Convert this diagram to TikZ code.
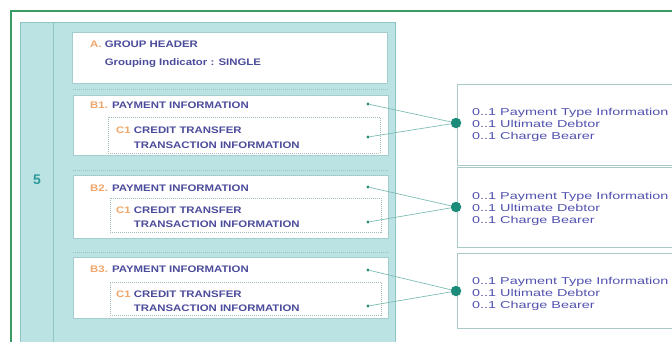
\documentclass[tikz,border=0pt]{standalone}
\usepackage{fontspec}
\setmainfont{Liberation Sans}
\newfontfamily\lblfont[FakeStretch=1.20]{Liberation Sans}
\newfontfamily\itemfont[FakeStretch=1.44]{Liberation Sans}

\definecolor{framegreen}{HTML}{3A9A64}
\definecolor{panel}{HTML}{BCE3E3}
\definecolor{panelline}{HTML}{8EC6C6}
\definecolor{boxline}{HTML}{A6CDCD}
\definecolor{dashline}{HTML}{A3BFB9}
\definecolor{itemline}{HTML}{A9C9C6}
\definecolor{ink}{HTML}{4C4C9C}
\definecolor{prefix}{HTML}{F0A66A}
\definecolor{itemink}{HTML}{5252B0}
\definecolor{tickfill}{HTML}{2A8A78}
\definecolor{hubfill}{HTML}{1B8C7A}
\definecolor{linkc}{HTML}{7DBDB5}
\definecolor{numc}{HTML}{2E9A9A}

\tikzset{
  frameline/.style={draw=framegreen, line width=1.6pt},
  panelbox/.style={draw=panelline, fill=panel, line width=1pt, inner sep=0, anchor=north west},
  headbox/.style={draw=boxline, fill=white, line width=1pt, inner sep=0, anchor=north west},
  groupbox/.style={draw=boxline, fill=white, line width=0.8pt, inner sep=0, anchor=north west},
  childbox/.style={draw=dashline, line width=0.6pt, dash pattern=on 1pt off 1pt, inner sep=0, anchor=north west},
  dotrule/.style={draw=dashline, line width=0.6pt, dash pattern=on 1pt off 1pt},
  itembox/.style={draw=itemline, fill=white, line width=0.8pt, inner sep=0, anchor=north west},
  lbl/.style={inner sep=0, anchor=base west, text=ink, font=\lblfont\bfseries\fontsize{9.5}{11}\selectfont},
  item/.style={inner sep=0, anchor=base west, text=itemink, font=\itemfont\fontsize{10}{12}\selectfont},
  tick/.style={circle, fill=tickfill, inner sep=0, minimum size=3.4pt},
  hub/.style={circle, fill=hubfill, inner sep=0, minimum size=10.5pt},
  link/.style={draw=linkc, line width=0.7pt},
}
\newcommand{\pfx}[1]{\textcolor{prefix}{#1}}

\begin{document}
\begin{tikzpicture}[x=1pt, y=-1pt]
\useasboundingbox (0,0) rectangle (672,341);
\clip (0,0) rectangle (672,341);

% outer frame
\coordinate (fr) at (680,11);
\coordinate (fc) at (11,11);
\coordinate (fb) at (11,350);
\draw[frameline] (fr) -- (fc) -- (fb);

% message panel with its level column
\node[panelbox, minimum width=375pt, minimum height=340pt] (panel) at (20,22) {};
\coordinate (colt) at (53,22);
\coordinate (colb) at (53,362);
\draw[draw=panelline, line width=1pt] (colt) -- (colb);
\node[text=numc, font=\bfseries\fontsize{14}{14}\selectfont, inner sep=0] (lvl) at (37,180) {5};

% group header
\node[headbox, minimum width=315pt, minimum height=51pt] (A) at (72,32) {};
\node[lbl] (At) at (90,47) {\pfx{A.} GROUP HEADER};
\node[lbl] (As) at (90,65) {\hphantom{A.} Grouping Indicator : SINGLE};

% payment information blocks
\node[groupbox, minimum width=315pt, minimum height=60pt] (B1) at (73,95) {};
\node[groupbox, minimum width=315pt, minimum height=63pt] (B2) at (73,175) {};
\node[groupbox, minimum width=315pt, minimum height=61pt] (B3) at (73,257) {};
\draw[dotrule] ([yshift=6pt]B1.north west) -- ([yshift=6pt]B1.north east);
\draw[dotrule] ([yshift=5pt]B2.north west) -- ([yshift=5pt]B2.north east);
\draw[dotrule] ([yshift=5pt]B3.north west) -- ([yshift=5pt]B3.north east);

% credit transfer transaction blocks
\node[childbox, minimum width=272pt, minimum height=36pt] (C1) at (108,117) {};
\node[childbox, minimum width=271pt, minimum height=34pt] (C2) at (110,198) {};
\node[childbox, minimum width=271pt, minimum height=33pt] (C3) at (110,282) {};

\node[lbl] (B1t) at (90,108) {\pfx{B1.} PAYMENT INFORMATION};
\node[lbl] (C1t) at (116,133) {\pfx{C1} CREDIT TRANSFER};
\node[lbl] (C1s) at (116,148) {\hphantom{C1} TRANSACTION INFORMATION};

\node[lbl] (B2t) at (90,191) {\pfx{B2.} PAYMENT INFORMATION};
\node[lbl] (C2t) at (116,213) {\pfx{C1} CREDIT TRANSFER};
\node[lbl] (C2s) at (116,227) {\hphantom{C1} TRANSACTION INFORMATION};

\node[lbl] (B3t) at (90,272) {\pfx{B3.} PAYMENT INFORMATION};
\node[lbl] (C3t) at (116,297) {\pfx{C1} CREDIT TRANSFER};
\node[lbl] (C3s) at (116,311) {\hphantom{C1} TRANSACTION INFORMATION};

% element lists
\node[itembox, minimum width=230pt, minimum height=81pt] (R1) at (457,84) {};
\node[itembox, minimum width=230pt, minimum height=80pt] (R2) at (457,167) {};
\node[itembox, minimum width=230pt, minimum height=75pt] (R3) at (457,253) {};

\node[item] (R1a) at (472,115) {0..1 Payment Type Information};
\node[item] (R1b) at (472,127) {0..1 Ultimate Debtor};
\node[item] (R1c) at (472,139) {0..1 Charge Bearer};

\node[item] (R2a) at (472,199) {0..1 Payment Type Information};
\node[item] (R2b) at (472,211) {0..1 Ultimate Debtor};
\node[item] (R2c) at (472,223) {0..1 Charge Bearer};

\node[item] (R3a) at (472,284) {0..1 Payment Type Information};
\node[item] (R3b) at (472,296) {0..1 Ultimate Debtor};
\node[item] (R3c) at (472,308) {0..1 Charge Bearer};

% anchor points and links
\node[tick] (p1) at (368,104) {};
\node[tick] (q1) at (368,137) {};
\node[tick] (p2) at (368,187) {};
\node[tick] (q2) at (368,222) {};
\node[tick] (p3) at (368,270) {};
\node[tick] (q3) at (368,306) {};

\node[hub] (h1) at (456,123) {};
\node[hub] (h2) at (456,207) {};
\node[hub] (h3) at (456,291) {};

\draw[link] (p1) -- (h1);
\draw[link] (q1) -- (h1);
\draw[link] (p2) -- (h2);
\draw[link] (q2) -- (h2);
\draw[link] (p3) -- (h3);
\draw[link] (q3) -- (h3);
\end{tikzpicture}
\end{document}
